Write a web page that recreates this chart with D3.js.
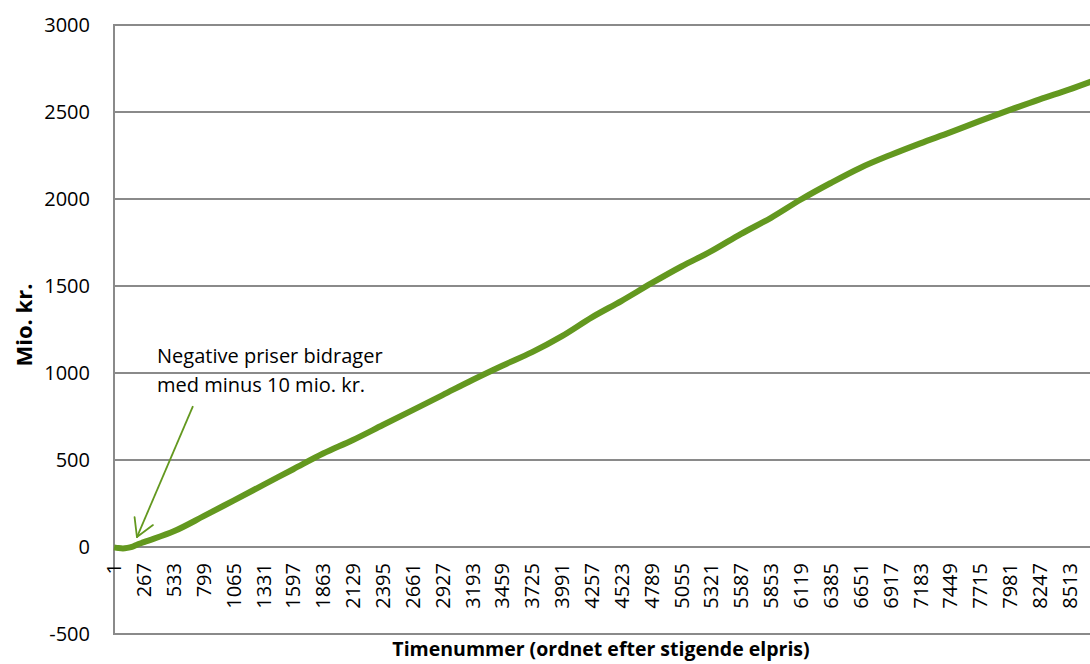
<!DOCTYPE html>
<html>
<head>
<meta charset="utf-8">
<script src="https://cdn.jsdelivr.net/npm/d3@7"></script>
<style>
  html, body { margin: 0; padding: 0; background: #ffffff; }
  svg { display: block; }
  text { font-family: "Open Sans", "Noto Sans", sans-serif; fill: #000; }
</style>
</head>
<body>
<svg id="chart" width="1090" height="664"></svg>
<script>
// ---- data ----
const hours = [1, 40, 80, 120, 160, 200, 267, 533, 799, 1065, 1331, 1597, 1863, 2129, 2395, 2661,
  2927, 3193, 3459, 3725, 3991, 4257, 4523, 4789, 5055, 5321, 5587, 5853, 6119, 6385,
  6651, 6917, 7183, 7449, 7715, 7981, 8247, 8513, 8760];
const values = [-2, -6, -8, -5, 1, 12, 28, 90, 177, 267, 357, 447, 537, 615, 701, 787,
  873, 960, 1042, 1120, 1212, 1320, 1415, 1516, 1612, 1700, 1800, 1892, 1997, 2092,
  2180, 2253, 2320, 2383, 2449, 2512, 2573, 2630, 2688];
const xTickLabels = ["1","267","533","799","1065","1331","1597","1863","2129","2395","2661","2927",
  "3193","3459","3725","3991","4257","4523","4789","5055","5321","5587","5853","6119","6385",
  "6651","6917","7183","7449","7715","7981","8247","8513"];
const yTicks = [-500, 0, 500, 1000, 1500, 2000, 2500, 3000];
const nHours = 8760;
const yTitle = "Mio. kr.";
const xTitle = "Timenummer (ordnet efter stigende elpris)";
const annotationLines = ["Negative priser bidrager", "med minus 10 mio. kr."];
const annotationText = {hour: 384, value: 1057};
const arrowFrom = {hour: 704, value: 810};
const arrowTo = {hour: 205, value: 57};

(function () {
  const svg = d3.select("#chart");
  const mLeft = 114, mTop = 25, mBottom = 634;
  const hourWidth = 0.11226;
  const mRight = mLeft + nHours * hourWidth;
  const green = "#63981f";
  const gridColor = "#8a8a8a";

  const x = d3.scaleLinear().domain([0.5, nHours + 0.5]).range([mLeft, mRight]);
  const y = d3.scaleLinear().domain([-500, 3000]).range([mBottom, mTop]);

  // gridlines
  svg.append("g").selectAll("line").data(yTicks).join("line")
    .attr("x1", mLeft).attr("x2", mRight)
    .attr("y1", d => y(d)).attr("y2", d => y(d))
    .attr("stroke", gridColor).attr("stroke-width", 2);

  // vertical axis line
  svg.append("line").attr("x1", mLeft).attr("x2", mLeft).attr("y1", y(3000) - 1).attr("y2", y(-500) + 1)
    .attr("stroke", gridColor).attr("stroke-width", 2);

  // y tick labels
  svg.append("g").selectAll("text").data(yTicks).join("text")
    .attr("x", mLeft - 24).attr("y", d => y(d)).attr("dy", "0.36em")
    .attr("text-anchor", "end").attr("font-size", 20)
    .text(d => d);

  // x tick labels (rotated)
  svg.append("g").selectAll("text").data(xTickLabels).join("text")
    .attr("transform", d => `translate(${x(+d)},${y(0) + 16}) rotate(-90)`)
    .attr("dy", "0.36em").attr("text-anchor", "end").attr("font-size", 20)
    .text(d => d);

  // axis titles
  svg.append("text").attr("x", 601).attr("y", 656).attr("text-anchor", "middle")
    .attr("font-weight", "bold").attr("font-size", 19.5).text(xTitle);
  svg.append("text").attr("transform", `translate(32,325) rotate(-90)`)
    .attr("text-anchor", "middle").attr("font-weight", "bold").attr("font-size", 22).text(yTitle);

  // line
  const pts = hours.map((h, i) => [h, values[i]]);
  svg.append("path").datum(pts)
    .attr("fill", "none").attr("stroke", green).attr("stroke-width", 6)
    .attr("stroke-linejoin", "round").attr("stroke-linecap", "butt")
    .attr("d", d3.line().x(d => x(d[0])).y(d => y(d[1])).curve(d3.curveMonotoneX));

  // annotation text
  const at = svg.append("text").attr("x", x(annotationText.hour)).attr("y", y(annotationText.value))
    .attr("font-size", 20);
  annotationLines.forEach((t, i) => {
    at.append("tspan").attr("x", x(annotationText.hour)).attr("dy", i === 0 ? 0 : 29).text(t);
  });

  // arrow
  const ax1 = x(arrowFrom.hour), ay1 = y(arrowFrom.value);
  const ax2 = x(arrowTo.hour), ay2 = y(arrowTo.value);
  svg.append("line").attr("x1", ax1).attr("y1", ay1).attr("x2", ax2).attr("y2", ay2)
    .attr("stroke", green).attr("stroke-width", 1.8);
  const ang = Math.atan2(ay1 - ay2, ax1 - ax2);
  const headLen = 20, headAng = Math.PI / 6;
  [ang - headAng, ang + headAng].forEach(a => {
    svg.append("line").attr("x1", ax2).attr("y1", ay2)
      .attr("x2", ax2 + headLen * Math.cos(a)).attr("y2", ay2 + headLen * Math.sin(a))
      .attr("stroke", green).attr("stroke-width", 1.8).attr("stroke-linecap", "round");
  });
})();
</script>
</body>
</html>
